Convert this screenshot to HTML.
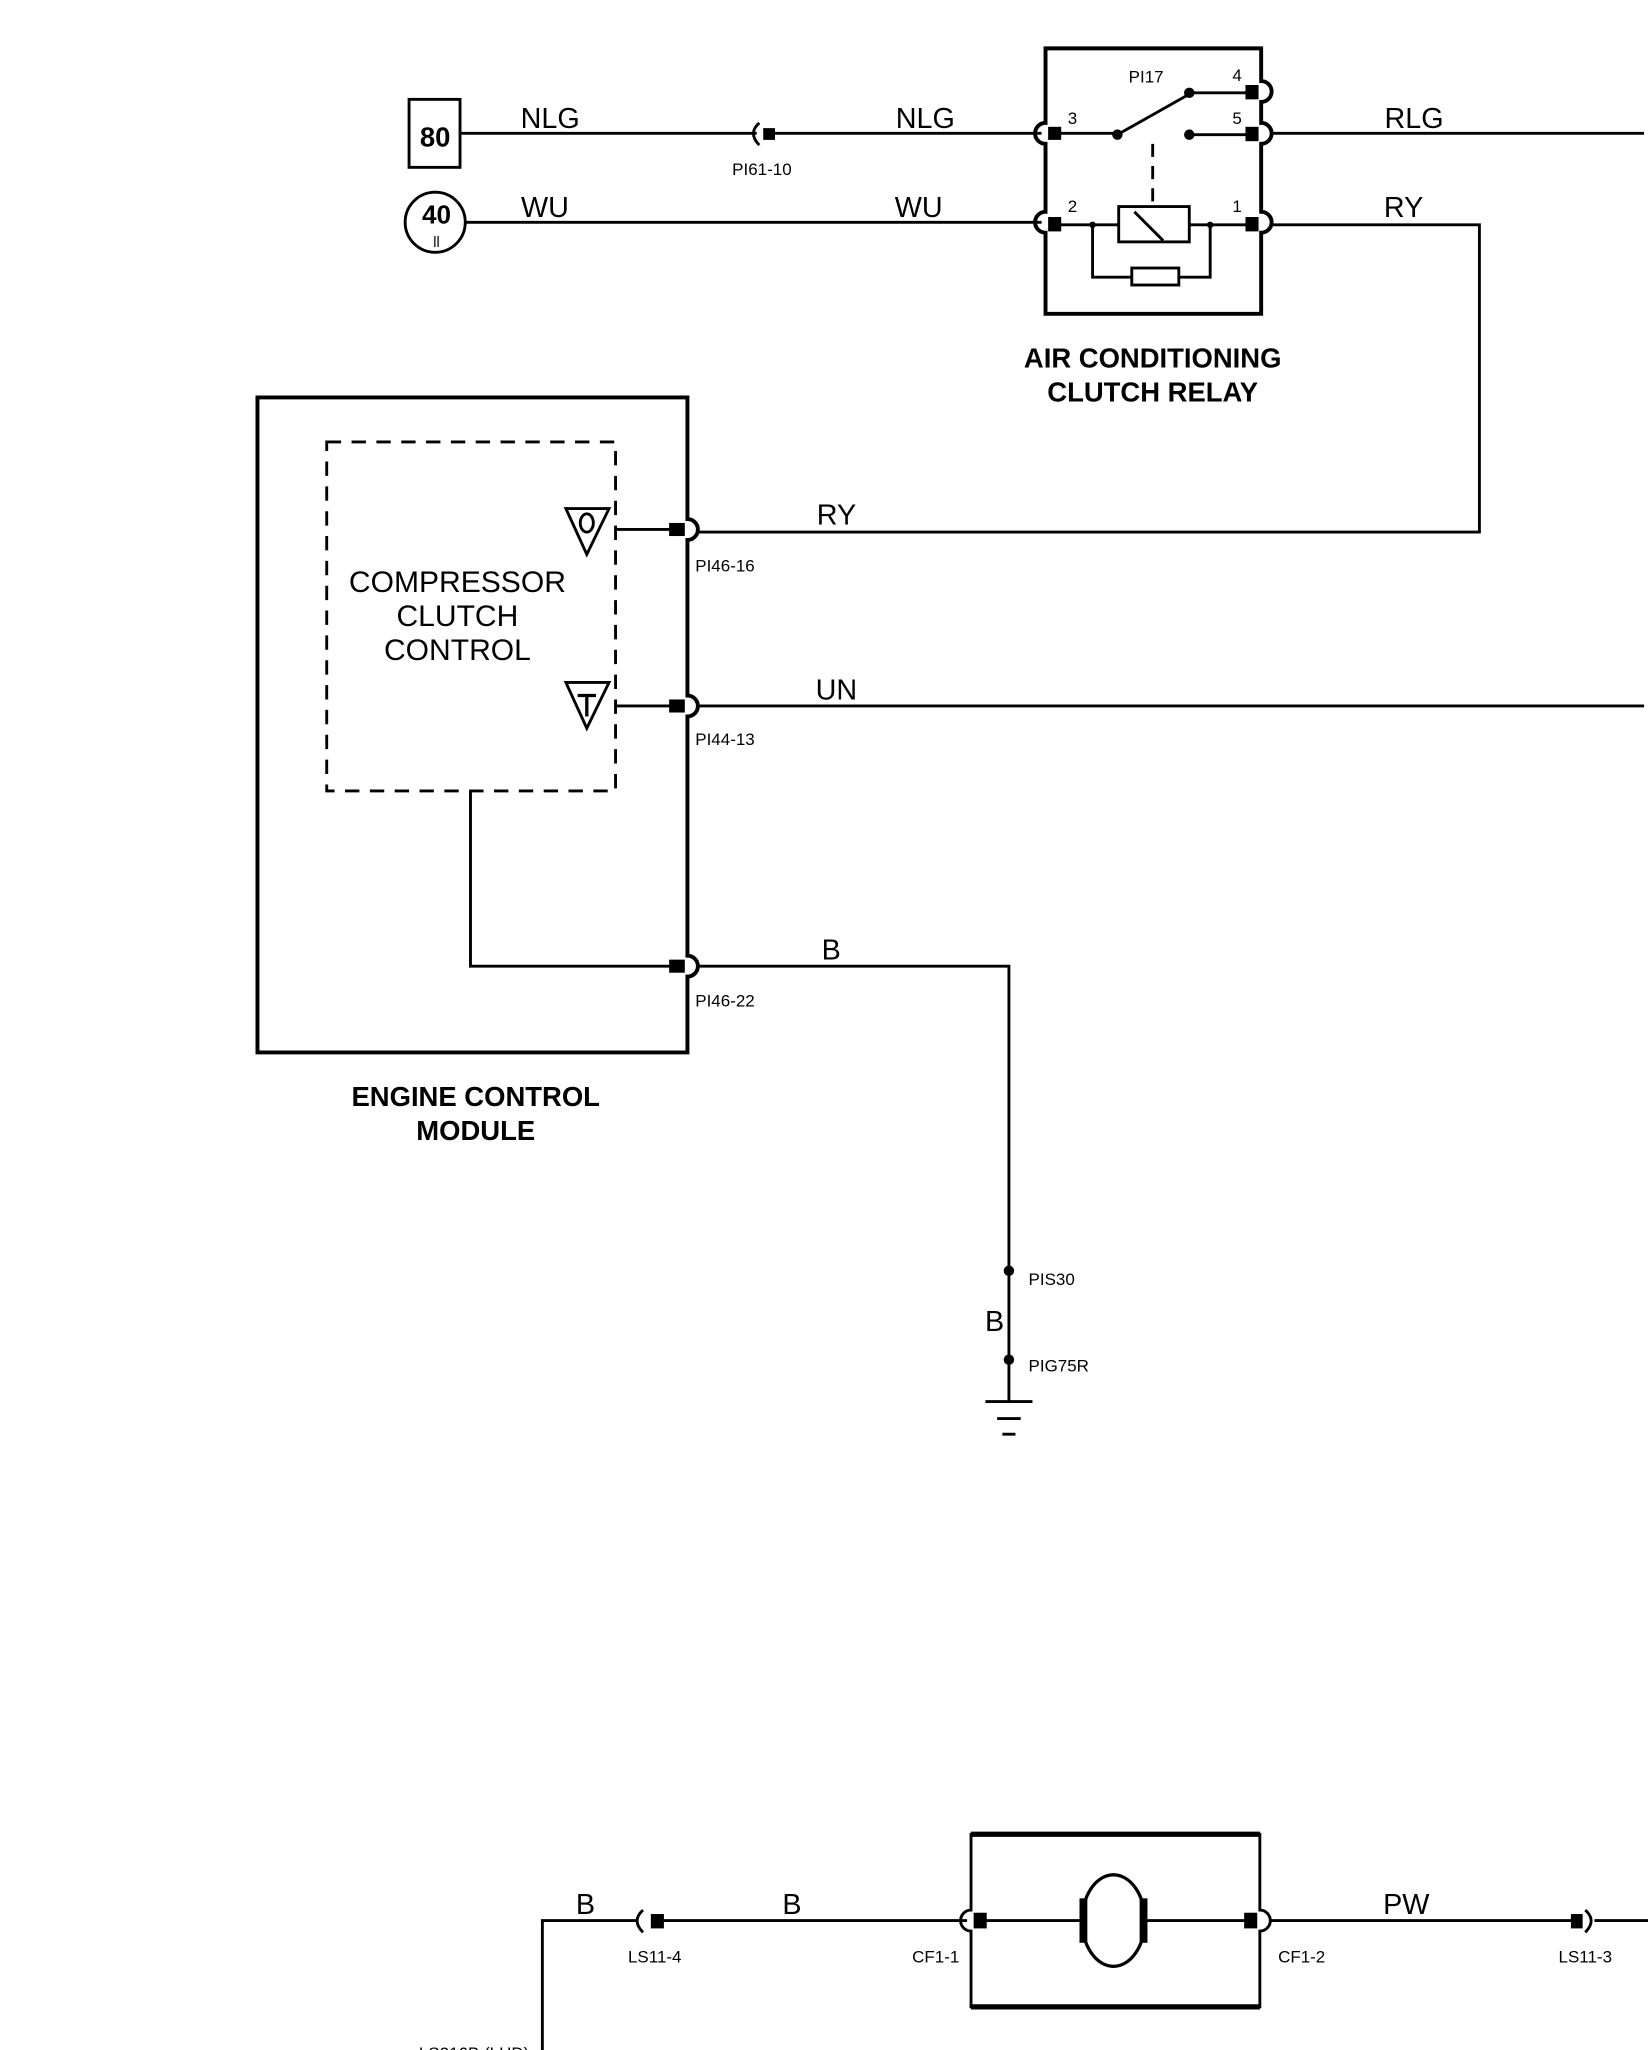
<!DOCTYPE html>
<html><head><meta charset="utf-8"><style>
html,body{margin:0;padding:0;background:#fff;}
svg{display:block;}
text{font-family:"Liberation Sans",sans-serif;fill:#000;}
</style></head><body>
<svg width="1648" height="2050" viewBox="0 0 1261 1568" preserveAspectRatio="none" xmlns="http://www.w3.org/2000/svg">
<g stroke="#000" fill="none" stroke-width="2.2">
<rect x="313" y="76" width="39" height="52"/>
<circle cx="333" cy="170" r="23"/>
<line x1="352" y1="102" x2="579" y2="102"/>
<path d="M581 94 Q572 102 581 111"/>
<line x1="588" y1="102" x2="797" y2="102"/>
<line x1="356" y1="170" x2="797" y2="170"/>
<path d="M800 37 H965 V62 a8 8 0 0 1 0 16 V94 a8 8 0 0 1 0 16 V162 a8 8 0 0 1 0 16 V240 H800 V178 a8 8 0 0 1 0 -16 V110 a8 8 0 0 1 0 -16 Z" stroke-width="3"/>
<line x1="807" y1="102" x2="855" y2="102"/>
<line x1="855" y1="103" x2="910" y2="72"/>
<line x1="910" y1="71" x2="958" y2="71"/>
<line x1="910" y1="103" x2="958" y2="103"/>
<line x1="882" y1="110" x2="882" y2="155" stroke-dasharray="10,7"/>
<line x1="807" y1="172" x2="856" y2="172"/>
<line x1="910" y1="172" x2="958" y2="172"/>
<rect x="856" y="158" width="54" height="27"/>
<line x1="868" y1="162" x2="890" y2="184"/>
<path d="M836 172 V212 H926 V172"/>
<rect x="866" y="205" width="36" height="13" fill="#fff"/>
<line x1="973" y1="102" x2="1258" y2="102"/>
<path d="M973 172 H1132 V407 H534"/>
<path d="M197 304 H526 V397 a8 8 0 0 1 0 16 V532 a8 8 0 0 1 0 16 V731 a8 8 0 0 1 0 16 V805 H197 Z" stroke-width="3"/>
<rect x="250" y="338" width="221" height="267" stroke-dasharray="11,8"/>
<line x1="471" y1="405" x2="518" y2="405"/>
<line x1="471" y1="540" x2="518" y2="540"/>
<line x1="534" y1="540" x2="1258" y2="540"/>
<path d="M360 605 V739 H518"/>
<path d="M534 739 H772 V1072"/>
<polygon points="433,389 466,389 449,424"/>
<polygon points="433,522 466,522 449,557"/>
<ellipse cx="449" cy="400" rx="5" ry="7"/>
<line x1="442" y1="532" x2="456" y2="532" stroke-width="2.5"/>
<line x1="449" y1="532" x2="449" y2="548" stroke-width="2.5"/>
<line x1="754" y1="1072" x2="790" y2="1072"/>
<line x1="763" y1="1085" x2="781" y2="1085"/>
<line x1="767" y1="1097" x2="777" y2="1097"/>
<path d="M415 1568 V1469 H488"/>
<path d="M492 1461 Q483 1469 492 1478"/>
<line x1="503" y1="1469" x2="740" y2="1469"/>
<path d="M743 1403 H964 V1461 a8 8 0 0 1 0 16 V1535 H743 V1477 a8 8 0 0 1 0 -16 Z"/>
<line x1="743" y1="1403" x2="964" y2="1403" stroke-width="4"/>
<line x1="743" y1="1535" x2="964" y2="1535" stroke-width="4"/>
<line x1="750" y1="1469" x2="827" y2="1469"/>
<line x1="876" y1="1469" x2="957" y2="1469"/>
<ellipse cx="852" cy="1469" rx="24" ry="35" stroke-width="2.5"/>
<line x1="972" y1="1469" x2="1207" y2="1469"/>
<path d="M1213 1461 Q1222 1469 1213 1478"/>
<line x1="1220" y1="1469" x2="1261" y2="1469"/>
</g>
<g fill="#000">
<rect x="584" y="98" width="9" height="9"/>
<rect x="802" y="97" width="10" height="10"/><rect x="802" y="166" width="10" height="11"/>
<rect x="953" y="65" width="10" height="11"/><rect x="953" y="97" width="10" height="11"/><rect x="953" y="166" width="10" height="11"/>
<circle cx="855" cy="103" r="4"/><circle cx="910" cy="71" r="4"/><circle cx="910" cy="103" r="4"/>
<circle cx="836" cy="172" r="2.5"/><circle cx="926" cy="172" r="2.5"/>
<rect x="512" y="400" width="12" height="10"/><rect x="512" y="535" width="12" height="10"/><rect x="512" y="734" width="12" height="10"/>
<circle cx="772" cy="972" r="4"/><circle cx="772" cy="1040" r="4"/>
<rect x="498" y="1464" width="10" height="11"/>
<rect x="745" y="1463" width="10" height="12"/><rect x="952" y="1463" width="10" height="12"/>
<rect x="826" y="1452" width="6" height="34"/><rect x="872" y="1452" width="6" height="34"/>
<rect x="1202" y="1464" width="9" height="11"/>
</g>
<g font-size="22" text-anchor="middle">
<text x="333" y="112" font-weight="bold" font-size="21">80</text>
<text x="334" y="171" font-weight="bold" font-size="20">40</text>
<text x="334" y="189" font-size="11">ll</text>
<text x="421" y="98">NLG</text><text x="417" y="166">WU</text>
<text x="708" y="98">NLG</text><text x="703" y="166">WU</text>
<text x="1082" y="98">RLG</text><text x="1074" y="166">RY</text>
<text x="640" y="401">RY</text><text x="640" y="535">UN</text><text x="636" y="734">B</text>
<text x="761" y="1018">B</text>
<text x="448" y="1464">B</text><text x="606" y="1464">B</text><text x="1076" y="1464">PW</text>
</g>
<g font-size="23" text-anchor="middle">
<text x="350" y="453">COMPRESSOR</text><text x="350" y="479">CLUTCH</text><text x="350" y="505">CONTROL</text>
</g>
<g font-size="21" font-weight="bold" text-anchor="middle">
<text x="882" y="281">AIR CONDITIONING</text><text x="882" y="307">CLUTCH RELAY</text>
<text x="364" y="846">ENGINE CONTROL</text><text x="364" y="872">MODULE</text>
<text x="852" y="1584">LH RADIATOR</text>
</g>
<g font-size="13">
<text x="583" y="134" text-anchor="middle">PI61-10</text>
<text x="877" y="63" text-anchor="middle">PI17</text>
<text x="817" y="95">3</text><text x="817" y="162">2</text>
<text x="943" y="62">4</text><text x="943" y="95">5</text><text x="943" y="162">1</text>
<text x="532" y="437">PI46-16</text><text x="532" y="570">PI44-13</text><text x="532" y="770">PI46-22</text>
<text x="787" y="983">PIS30</text><text x="787" y="1049">PIG75R</text>
<text x="501" y="1501" text-anchor="middle">LS11-4</text>
<text x="716" y="1501" text-anchor="middle">CF1-1</text>
<text x="996" y="1501" text-anchor="middle">CF1-2</text>
<text x="1213" y="1501" text-anchor="middle">LS11-3</text>
<text x="405" y="1575" text-anchor="end">LS216B (LHD)</text>
</g>
</svg>
</body></html>
